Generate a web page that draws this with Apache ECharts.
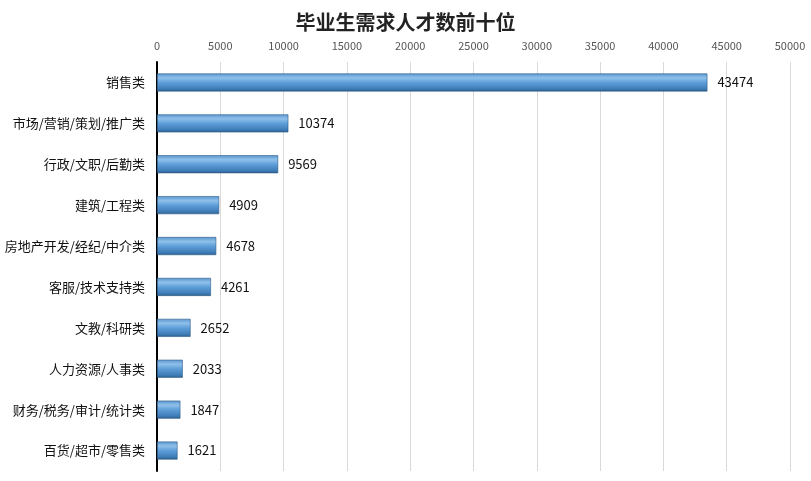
<!DOCTYPE html>
<html><head><meta charset="utf-8">
<script src="https://cdn.jsdelivr.net/npm/echarts@6/dist/echarts.min.js"></script>
<style>html,body{margin:0;padding:0;background:#fff}#c{width:811px;height:481px}</style>
</head><body><div id="c"></div>
<script>
const categories = ['销售类','市场/营销/策划/推广类','行政/文职/后勤类','建筑/工程类','房地产开发/经纪/中介类','客服/技术支持类','文教/科研类','人力资源/人事类','财务/税务/审计/统计类','百货/超市/零售类'];
const values = [43474,10374,9569,4909,4678,4261,2652,2033,1847,1621];
const chart = echarts.init(document.getElementById('c'));
chart.setOption({
  backgroundColor:'#fff',
  animation:false,
  title:{text:'毕业生需求人才数前十位',left:'center',top:7,textStyle:{fontFamily:'Noto Sans CJK SC',fontSize:20,fontWeight:'bold',color:'#222'}},
  grid:{left:157,right:21,top:62,bottom:10,containLabel:false},
  xAxis:{type:'value',position:'top',min:0,max:50000,interval:5000,
    axisLine:{show:false},axisTick:{show:false},
    axisLabel:{color:'#555',fontSize:11,margin:11,fontFamily:'Noto Sans CJK SC',formatter:v=>String(v)},
    splitLine:{lineStyle:{color:'#d9d9d9',width:1}}},
  yAxis:{type:'category',data:categories,inverse:true,
    axisLine:{lineStyle:{color:'#000',width:2}},axisTick:{show:false},
    axisLabel:{color:'#111',fontSize:13,margin:12,fontFamily:'Noto Sans CJK SC'}},
  series:[{type:'bar',data:values,barWidth:18,
    itemStyle:{borderColor:'#2c5a85',borderWidth:0.6,
      color:new echarts.graphic.LinearGradient(0,0,0,1,[
        {offset:0,color:'#5a96cf'},{offset:0.25,color:'#8fc0ea'},{offset:0.5,color:'#5f9fd9'},{offset:0.85,color:'#3f7db8'},{offset:1,color:'#2c5e8e'}])},
    label:{show:true,position:'right',distance:10,color:'#111',fontSize:13,fontFamily:'Noto Sans CJK SC'}}]
});
</script></body></html>
